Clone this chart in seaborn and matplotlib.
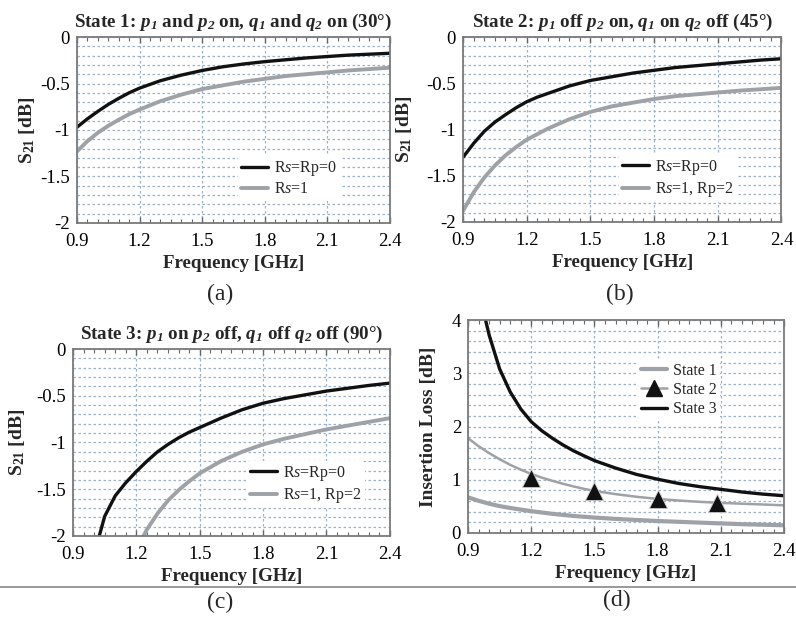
import numpy as np
import matplotlib
matplotlib.use("Agg")
import matplotlib.pyplot as plt
from matplotlib.lines import Line2D
from matplotlib.ticker import MultipleLocator, FormatStrFormatter
import seaborn as sns

# Frequency axis shared by all panels (GHz), finer where the curves bend
freq = [0.9, 0.95, 1.0, 1.05, 1.1, 1.15, 1.2, 1.25, 1.3, 1.35, 1.4, 1.45, 1.5,
        1.6, 1.7, 1.8, 1.9, 2.0, 2.1, 2.2, 2.3, 2.4]

# (a) State 1, S21 in dB
a_ideal = [-0.97, -0.88, -0.80, -0.725, -0.66, -0.60, -0.55, -0.51, -0.47, -0.44,
           -0.41, -0.385, -0.36, -0.32, -0.29, -0.265, -0.245, -0.225, -0.21,
           -0.195, -0.185, -0.175]
a_lossy = [-1.23, -1.12, -1.03, -0.955, -0.89, -0.83, -0.78, -0.735, -0.69, -0.655,
           -0.62, -0.59, -0.56, -0.52, -0.48, -0.45, -0.42, -0.40, -0.38,
           -0.36, -0.345, -0.33]

# (b) State 2
b_ideal = [-1.30, -1.15, -1.02, -0.92, -0.84, -0.765, -0.70, -0.65, -0.61, -0.57,
           -0.53, -0.50, -0.47, -0.43, -0.39, -0.36, -0.33, -0.31, -0.29,
           -0.27, -0.25, -0.235]
b_lossy = [-1.88, -1.68, -1.52, -1.39, -1.28, -1.19, -1.11, -1.05, -0.99, -0.94,
           -0.89, -0.85, -0.81, -0.75, -0.71, -0.67, -0.64, -0.62, -0.60,
           -0.58, -0.565, -0.55]

# (c) State 3 (curves run below -2 at low frequency)
c_ideal = [np.nan, np.nan, -2.2, -1.79, -1.57, -1.43, -1.31, -1.20, -1.10, -1.02,
           -0.95, -0.89, -0.84, -0.74, -0.65, -0.58, -0.53, -0.49, -0.45,
           -0.42, -0.39, -0.365]
c_lossy = [np.nan, np.nan, np.nan, np.nan, np.nan, np.nan, -2.15, -1.93, -1.76,
           -1.62, -1.51, -1.415, -1.33, -1.20, -1.10, -1.02, -0.96, -0.91, -0.86,
           -0.82, -0.78, -0.74]

# (d) insertion loss in dB
il_state1 = [0.67, 0.605, 0.55, 0.505, 0.47, 0.44, 0.41, 0.385, 0.36, 0.34,
             0.32, 0.305, 0.29, 0.265, 0.245, 0.225, 0.21, 0.195, 0.18,
             0.165, 0.155, 0.145]
il_state2 = [1.78, 1.63, 1.50, 1.385, 1.28, 1.19, 1.11, 1.04, 0.98, 0.925,
             0.875, 0.83, 0.79, 0.73, 0.68, 0.64, 0.61, 0.585, 0.565,
             0.55, 0.535, 0.52]
il_state3 = [np.nan, 4.55, 3.72, 3.08, 2.65, 2.33, 2.09, 1.92, 1.78, 1.655,
             1.545, 1.45, 1.36, 1.22, 1.10, 1.01, 0.93, 0.87, 0.82,
             0.77, 0.73, 0.70]
meas_freq = [1.2, 1.5, 1.8, 2.08]
meas_state2 = [1.04, 0.79, 0.63, 0.57]

titles = [
    r"State 1: $\mathbfit{p}_\mathbfit{1}$ and $\mathbfit{p}_\mathbfit{2}$ on, "
    r"$\mathbfit{q}_\mathbfit{1}$ and $\mathbfit{q}_\mathbfit{2}$ on (30°)",
    r"State 2: $\mathbfit{p}_\mathbfit{1}$ off $\mathbfit{p}_\mathbfit{2}$ on, "
    r"$\mathbfit{q}_\mathbfit{1}$ on $\mathbfit{q}_\mathbfit{2}$ off (45°)",
    r"State 3: $\mathbfit{p}_\mathbfit{1}$ on $\mathbfit{p}_\mathbfit{2}$ off, "
    r"$\mathbfit{q}_\mathbfit{1}$ off $\mathbfit{q}_\mathbfit{2}$ off (90°)",
]

sns.set_theme(style="white")
plt.rcParams["font.family"] = ["Liberation Serif", "DejaVu Serif"]
plt.rcParams["mathtext.fontset"] = "custom"
plt.rcParams["mathtext.rm"] = "Liberation Serif"
plt.rcParams["mathtext.it"] = "Liberation Serif:italic"
plt.rcParams["mathtext.bf"] = "Liberation Serif:bold"
plt.rcParams["mathtext.bfit"] = "Liberation Serif:bold:italic"
plt.rcParams["axes.unicode_minus"] = False

BLACK = "#111111"
GRAY = "#9ea2a6"
GRID = "#9db2c6"

fig = plt.figure(figsize=(7.96, 6.22), dpi=100)
ax_a = fig.add_axes([0.0967, 0.6415, 0.393, 0.299])
ax_b = fig.add_axes([0.5817, 0.6431, 0.400, 0.2974])
ax_c = fig.add_axes([0.0917, 0.1383, 0.398, 0.3006])
ax_d = fig.add_axes([0.588, 0.1431, 0.397, 0.3424])


def style_axis(ax, ylim, ymajor, yminor, ylabel, ylabel_x):
    ax.set_xlim(0.9, 2.4)
    ax.set_ylim(*ylim)
    ax.xaxis.set_major_locator(MultipleLocator(0.3))
    ax.xaxis.set_minor_locator(MultipleLocator(0.05))
    ax.yaxis.set_major_locator(MultipleLocator(ymajor))
    ax.yaxis.set_minor_locator(MultipleLocator(yminor))
    ax.xaxis.set_major_formatter(FormatStrFormatter("%.1f"))
    ax.yaxis.set_major_formatter(FormatStrFormatter("%g"))
    ax.xaxis.grid(True, which="major", ls=(0, (2, 2)), color=GRID, lw=0.9)
    ax.yaxis.grid(True, which="both", ls=(0, (2, 2)), color=GRID, lw=0.9)
    ax.tick_params(axis="both", which="both", direction="in", labelsize=13.5,
                   colors="#666666", labelcolor="black")
    ax.tick_params(axis="x", which="both", top=True, bottom=True)
    ax.tick_params(axis="x", which="major", length=4, width=1, pad=7)
    ax.tick_params(axis="x", which="minor", length=3, width=0.8)
    ax.tick_params(axis="y", which="major", length=4, width=1, pad=5)
    ax.tick_params(axis="y", which="minor", length=0)
    for s in ax.spines.values():
        s.set_color("#7a7a7a")
        s.set_linewidth(1.3)
    ax.set_xlabel("Frequency [GHz]", fontsize=13.7, fontweight="bold", labelpad=4)
    ax.set_ylabel(ylabel, fontsize=14, fontweight="bold")
    ax.yaxis.set_label_coords(ylabel_x, 0.5)


s21_label = r"$\mathbf{S}_{\mathbf{21}}$ [dB]"
leg_kw = dict(loc="center left", frameon=True, facecolor="white", edgecolor="none",
              framealpha=1, fontsize=11.5, handlelength=1.65, handletextpad=0.4,
              labelspacing=0.2, borderpad=0.2, borderaxespad=0)

panels = [
    (ax_a, a_ideal, a_lossy, "R$\\mathit{s}$=1", (0.515, 0.24), titles[0], -0.128),
    (ax_b, b_ideal, b_lossy, "R$\\mathit{s}$=1, Rp=2", (0.49, 0.235), titles[1], -0.153),
    (ax_c, c_ideal, c_lossy, "R$\\mathit{s}$=1, Rp=2", (0.55, 0.275), titles[2], -0.145),
]
for ax, ideal, lossy, lossy_label, anchor, title, ylx in panels:
    sns.lineplot(x=freq, y=ideal, ax=ax, color=BLACK, lw=2.4,
                 label="R$\\mathit{s}$=Rp=0")
    sns.lineplot(x=freq, y=lossy, ax=ax, color=GRAY, lw=2.8, label=lossy_label)
    style_axis(ax, (-2, 0), 0.5, 0.1, s21_label, ylx)
    ax.set_title(title, fontsize=13.7, fontweight="bold", pad=7)
    ax.legend(bbox_to_anchor=anchor, **leg_kw)

# (d) insertion loss
sns.lineplot(x=freq, y=il_state1, ax=ax_d, color=GRAY, lw=3.0)
sns.lineplot(x=freq, y=il_state2, ax=ax_d, color=GRAY, lw=1.8)
sns.scatterplot(x=meas_freq, y=meas_state2, ax=ax_d, marker="^", s=170,
                color=BLACK, edgecolor="#cccccc", linewidth=0.6, zorder=5)
sns.lineplot(x=freq, y=il_state3, ax=ax_d, color=BLACK, lw=2.4)
style_axis(ax_d, (0, 4), 1, 0.2, "Insertion Loss [dB]", -0.097)
handles = [
    Line2D([], [], color=GRAY, lw=3.0),
    Line2D([], [], color=GRAY, lw=1.8, marker="^", markersize=11,
           markerfacecolor=BLACK, markeredgecolor=BLACK),
    Line2D([], [], color=BLACK, lw=2.4),
]
ax_d.legend(handles, ["State 1", "State 2", "State 3"],
            bbox_to_anchor=(0.536, 0.671), **leg_kw)

# panel letters and separator
fig.text(0.276, 0.526, "(a)", fontsize=17, ha="center", va="center")
fig.text(0.779, 0.526, "(b)", fontsize=17, ha="center", va="center")
fig.text(0.276, 0.031, "(c)", fontsize=17, ha="center", va="center")
fig.text(0.775, 0.035, "(d)", fontsize=17, ha="center", va="center")
fig.add_artist(Line2D([0, 1], [0.0563, 0.0563], transform=fig.transFigure,
                      color="#888888", lw=1.2))

fig.savefig("out.png", dpi=100, facecolor="white")
